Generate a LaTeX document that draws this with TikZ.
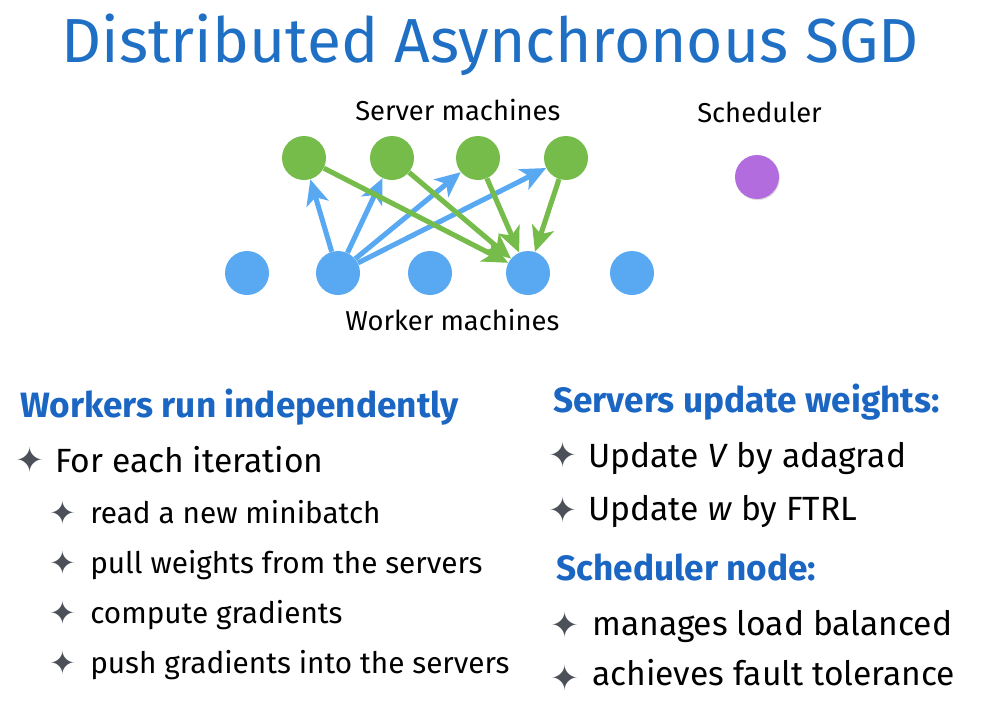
\documentclass[tikz,border=0pt]{standalone}
\usepackage{fontspec}
\setmainfont{Fira Sans}
\newfontfamily\symfont{DejaVu Sans}
\usetikzlibrary{arrows.meta,shadows}

\definecolor{titleblue}{HTML}{1F6FC4}
\definecolor{headblue}{HTML}{1A66C2}
\definecolor{srvgreen}{HTML}{76BC4A}
\definecolor{wrkblue}{HTML}{58A9F2}
\definecolor{schpurple}{HTML}{B26CDD}
\definecolor{bulgray}{HTML}{4B5059}

\tikzset{
  machine/.style={circle,minimum size=33pt,inner sep=0pt},
  pusharrow/.style={wrkblue,line width=3.8pt,-{Stealth[length=19pt,width=17pt,inset=5pt]}},
  pullarrow/.style={srvgreen,line width=3.8pt,-{Stealth[length=19pt,width=17pt,inset=5pt]}},
  label/.style={anchor=base west,inner sep=0pt,font=\fontsize{20.5}{24}\selectfont},
  heading/.style={anchor=base west,inner sep=0pt,text=headblue,font=\fontsize{26.4}{30}\selectfont\bfseries},
  itemA/.style={anchor=base west,inner sep=0pt,font=\fontsize{25.2}{30}\selectfont},
  itemB/.style={anchor=base west,inner sep=0pt,font=\fontsize{22.3}{26}\selectfont},
  sparkle/.style={inner sep=0pt,text=bulgray,font=\symfont\fontsize{26}{26}\selectfont},
  sparkleB/.style={sparkle,font=\symfont\fontsize{24}{24}\selectfont}
}

\begin{document}
\begin{tikzpicture}[x=0.75pt,y=-0.75pt]
\useasboundingbox (0,0) rectangle (981,721);
\node[anchor=base,inner sep=0pt,text=titleblue,font=\fontsize{46.7}{52}\selectfont] (title) at (490,62) {Distributed Asynchronous SGD};

% machines
\foreach \i/\x in {1/304,2/392,3/478,4/566}
  \node[machine,fill=srvgreen] (s\i) at (\x,158) {};
\foreach \i/\x in {1/247,2/338,3/430,4/528,5/632}
  \node[machine,fill=wrkblue] (w\i) at (\x,273) {};
\node[machine,fill=schpurple,drop shadow={opacity=0.25,shadow xshift=0.6pt,shadow yshift=-0.9pt}] (sch) at (757,177) {};

\node[label] (srvlabel) at (355,120) {Server machines};
\node[label] (wrklabel) at (345,330) {Worker machines};
\node[label] (schlabel) at (697,122) {Scheduler};

% push to servers, pull back
\foreach \i in {1,...,4}
  \draw[pusharrow] (w2) -- (s\i);
\foreach \i in {1,...,4}
  \draw[pullarrow] (s\i) -- (w4);

% workers
\node[heading] (wrkhead) at (20,417) {Workers run independently};
\node[sparkle] (b1) at (30,460) {✦};
\node[itemA] (t1) at (55,472) {For each iteration};
\node[sparkleB] (b2) at (63,513) {✦};
\node[itemB] (t2) at (90,523) {read a new minibatch};
\node[sparkleB] (b3) at (63,563) {✦};
\node[itemB] (t3) at (90,573) {pull weights from the servers};
\node[sparkleB] (b4) at (63,613) {✦};
\node[itemB] (t4) at (90,623) {compute gradients};
\node[sparkleB] (b5) at (63,663) {✦};
\node[itemB] (t5) at (90,673) {push gradients into the servers};

% servers and scheduler
\node[heading] (srvhead) at (553,412) {Servers update weights:};
\node[sparkle] (b6) at (563,455) {✦};
\node[itemA] (t6) at (588,467) {Update \textit{V} by adagrad};
\node[sparkle] (b7) at (563,510) {✦};
\node[itemA] (t7) at (588,520) {Update \textit{w} by FTRL};
\node[heading] (schhead) at (556,580) {Scheduler node:};
\node[sparkle] (b8) at (565,625) {✦};
\node[itemA] (t8) at (592,635) {manages load balanced};
\node[sparkle] (b9) at (565,678) {✦};
\node[itemA] (t9) at (592,685) {achieves fault tolerance};
\end{tikzpicture}
\end{document}
